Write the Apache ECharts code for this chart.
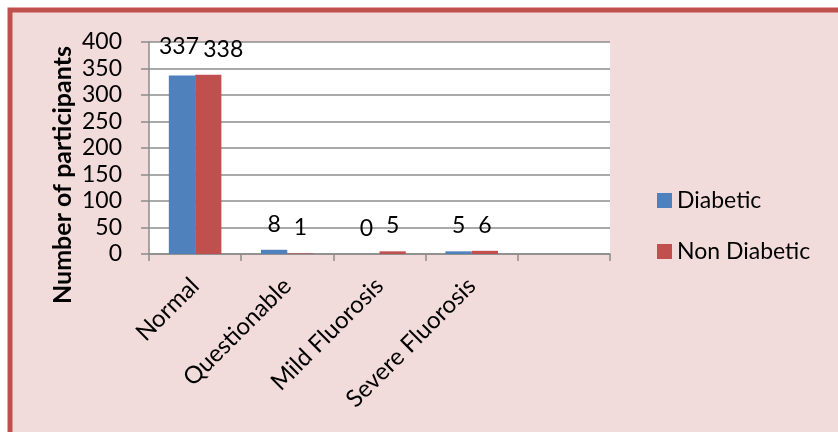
<!DOCTYPE html>
<html>
<head>
<meta charset="utf-8">
<script src="https://cdn.jsdelivr.net/npm/echarts@6/dist/echarts.min.js"></script>
<style>
  html, body { margin: 0; padding: 0; background: #ffffff; }
  #chart { width: 838px; height: 432px; }
</style>
</head>
<body>
<div id="chart"></div>
<script>
// Fluorosis grade counts for diabetic and non-diabetic participants
const categories = ['Normal', 'Questionable', 'Mild Fluorosis', 'Severe Fluorosis', ''];
const diabetic = [337, 8, 0, 5, null];
const nonDiabetic = [338, 1, 5, 6, null];
const yTicks = { min: 0, max: 400, interval: 50 };
const yTitle = 'Number of participants';

const FONT = 'Lato';
const BLUE = '#4F81BD';
const RED = '#C0504D';
const GRID = '#8c8c8c';

const chart = echarts.init(document.getElementById('chart'), null, { renderer: 'canvas' });

const labelStyle = {
  show: true,
  position: 'top',
  distance: 14,
  color: '#000',
  fontFamily: FONT,
  fontSize: 23
};

// the first pair of labels collide, so the right one is nudged aside
function withLabels(values, firstOffset) {
  return values.map((v, i) => (i === 0 ? { value: v, label: { offset: firstOffset } } : v));
}

chart.setOption({
  animation: false,
  backgroundColor: '#ffffff',
  graphic: [
    {
      type: 'rect',
      z: -10,
      shape: { x: 10, y: 10, width: 860, height: 460 },
      style: { fill: '#F2DCDB', stroke: RED, lineWidth: 5 }
    },
    {
      type: 'text',
      x: 63,
      y: 175,
      rotation: Math.PI / 2,
      style: {
        text: yTitle,
        fontFamily: FONT,
        fontWeight: 'bold',
        fontSize: 25,
        fill: '#000',
        align: 'center',
        verticalAlign: 'middle'
      }
    }
  ],
  grid: {
    left: 149, top: 42, width: 461, height: 212,
    show: true, backgroundColor: '#ffffff', borderWidth: 0
  },
  legend: {
    orient: 'vertical',
    left: 652,
    top: 184,
    itemWidth: 15,
    itemHeight: 15,
    itemGap: 28,
    icon: 'rect',
    textStyle: { fontFamily: FONT, fontSize: 23, color: '#000' },
    data: ['Diabetic', 'Non Diabetic']
  },
  xAxis: {
    type: 'category',
    data: categories,
    axisLine: { lineStyle: { color: GRID, width: 1.5 } },
    axisTick: { show: true, length: 7, lineStyle: { color: GRID, width: 1.5 } },
    axisLabel: {
      interval: 0,
      rotate: 45,
      margin: 28,
      color: '#000',
      fontFamily: FONT,
      fontSize: 24
    }
  },
  yAxis: {
    type: 'value',
    min: yTicks.min,
    max: yTicks.max,
    interval: yTicks.interval,
    axisLine: { show: true, lineStyle: { color: GRID, width: 1.5 } },
    axisTick: { show: true, length: 8, lineStyle: { color: GRID, width: 1.5 } },
    splitLine: { lineStyle: { color: GRID, width: 1.5 } },
    axisLabel: {
      margin: 27,
      color: '#000',
      fontFamily: FONT,
      fontSize: 23
    }
  },
  series: [
    {
      name: 'Diabetic',
      type: 'bar',
      data: withLabels(diabetic, [-3, -3]),
      itemStyle: { color: BLUE },
      barGap: '0%',
      barCategoryGap: '43%',
      label: labelStyle
    },
    {
      name: 'Non Diabetic',
      type: 'bar',
      data: withLabels(nonDiabetic, [15, 0]),
      itemStyle: { color: RED },
      barGap: '0%',
      barCategoryGap: '43%',
      label: labelStyle
    }
  ]
});
</script>
</body>
</html>
